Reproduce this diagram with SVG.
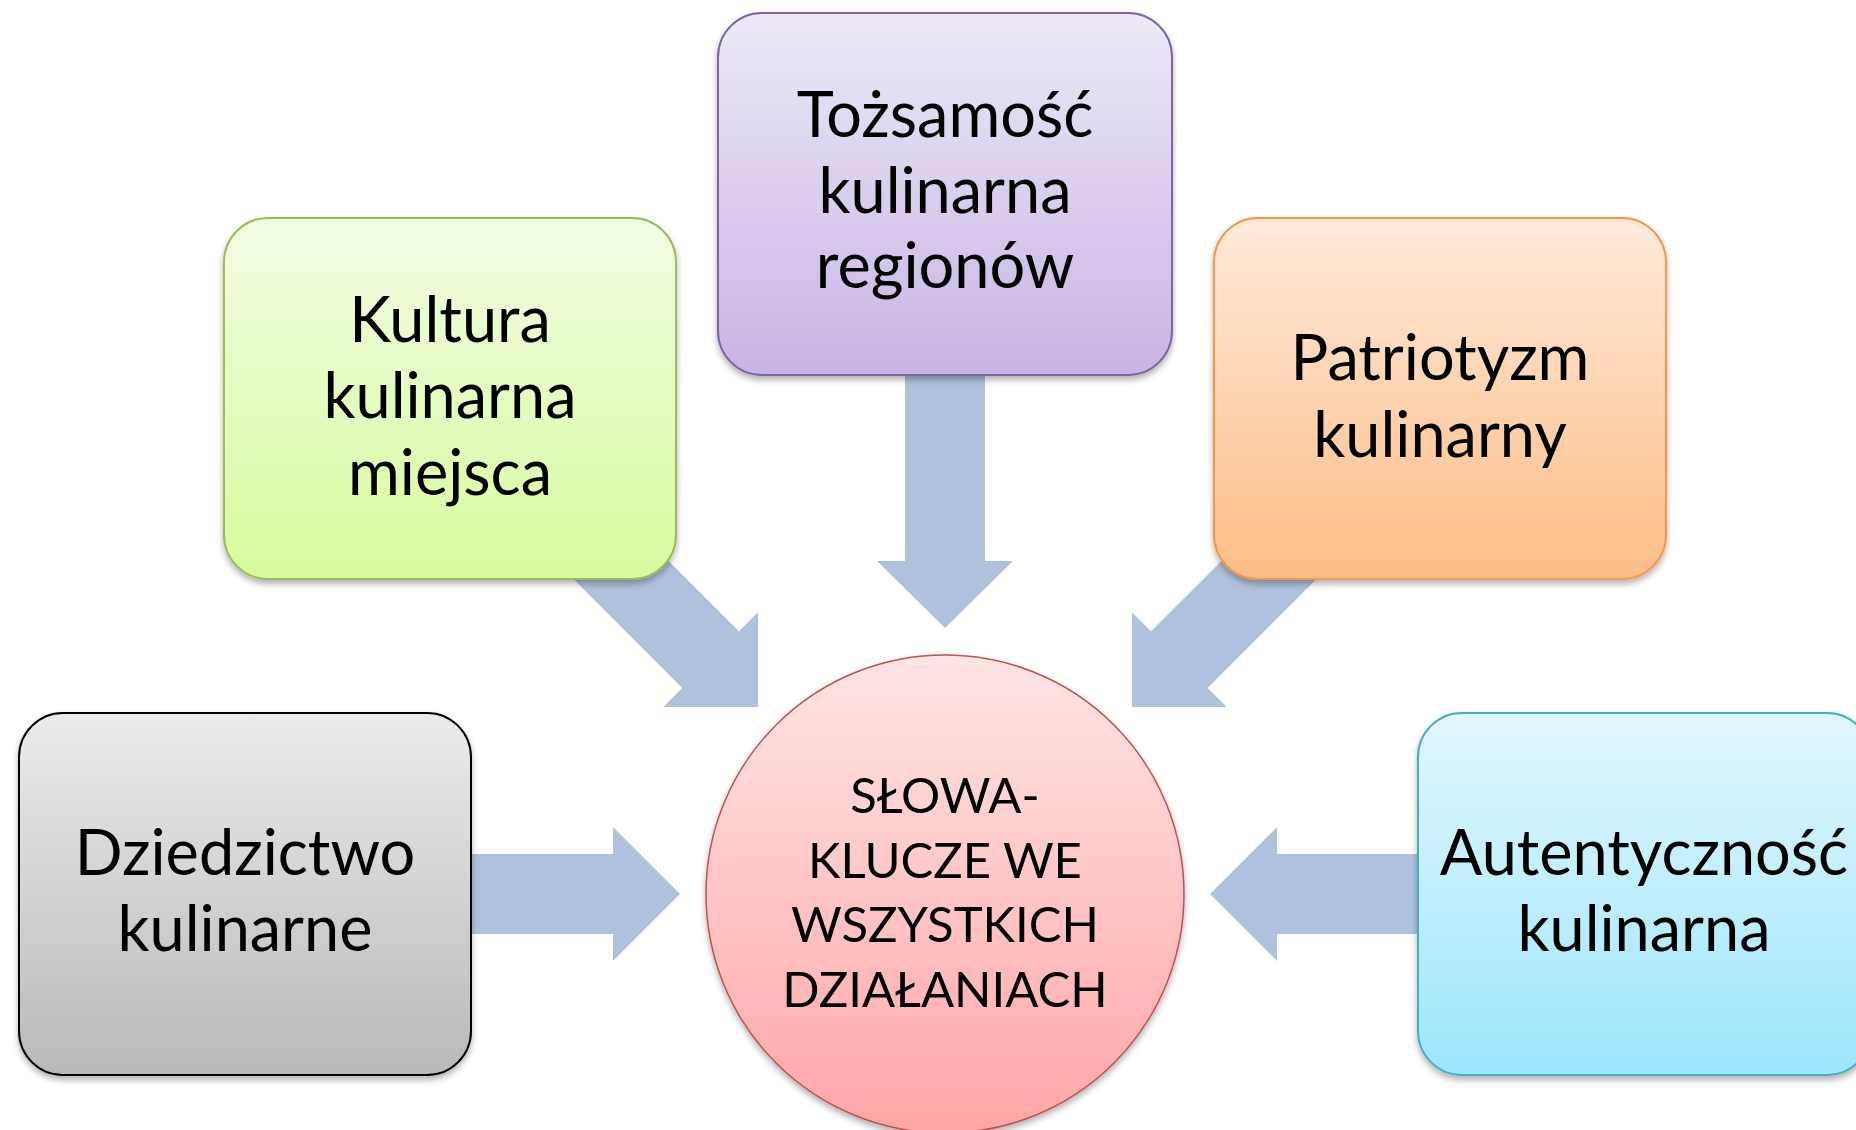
<svg xmlns="http://www.w3.org/2000/svg" width="1856" height="1130" viewBox="0 0 1856 1130">
<style>
.arrow{fill:#B0C1DD}
.box{stroke-width:2}
.lbl{font-family:Lato,"Open Sans","Liberation Sans",sans-serif;font-size:63px;fill:#000;text-anchor:middle}
.clbl{font-family:Lato,"Open Sans","Liberation Sans",sans-serif;font-size:49px;fill:#000;text-anchor:middle}
</style>
<defs>
<filter id="sh" x="-10%" y="-10%" width="120%" height="125%">
<feDropShadow dx="0" dy="4" stdDeviation="3" flood-color="#000" flood-opacity="0.3"/>
</filter>
<linearGradient id="gP" x1="0" y1="0" x2="0" y2="1"><stop offset="0" stop-color="#EEE8F7"/><stop offset="1" stop-color="#C8B4E4"/></linearGradient>
<linearGradient id="gG" x1="0" y1="0" x2="0" y2="1"><stop offset="0" stop-color="#F1FDE3"/><stop offset="1" stop-color="#D8FB9E"/></linearGradient>
<linearGradient id="gO" x1="0" y1="0" x2="0" y2="1"><stop offset="0" stop-color="#FFEADA"/><stop offset="1" stop-color="#FCBD86"/></linearGradient>
<linearGradient id="gK" x1="0" y1="0" x2="0" y2="1"><stop offset="0" stop-color="#EBEBEB"/><stop offset="1" stop-color="#B9B9B9"/></linearGradient>
<linearGradient id="gC" x1="0" y1="0" x2="0" y2="1"><stop offset="0" stop-color="#E2F7FD"/><stop offset="1" stop-color="#9DE6FC"/></linearGradient>
<linearGradient id="gR" x1="0" y1="0" x2="0" y2="1"><stop offset="0" stop-color="#FFE5E5"/><stop offset="1" stop-color="#FFA6A6"/></linearGradient>
</defs>
<g id="connectors">
<path class="arrow" d="M400,854 L613,854 L613,827 L680,894 L613,961 L613,934 L400,934 Z"/>
<path class="arrow" d="M1490,854 L1277,854 L1277,827 L1210,894 L1277,961 L1277,934 L1490,934 Z"/>
<path class="arrow" d="M905,300 L905,561 L877,561 L945,628 L1013,561 L985,561 L985,300 Z"/>
<path class="arrow" transform="translate(758,707) rotate(45)" d="M-250,-40 L-67,-40 L-67,-67 L0,0 L-67,67 L-67,40 L-250,40 Z"/>
<path class="arrow" transform="translate(1132,707) rotate(135)" d="M-250,-40 L-67,-40 L-67,-67 L0,0 L-67,67 L-67,40 L-250,40 Z"/>
</g>
<g id="node-tozsamosc">
<rect class="box" x="718" y="13" width="454" height="362" rx="44" fill="url(#gP)" stroke="#8064A2" filter="url(#sh)"/>
<text class="lbl" x="945" y="137">Tożsamość</text>
<text class="lbl" x="945" y="213">kulinarna</text>
<text class="lbl" x="945" y="288">regionów</text>
</g>
<g id="node-kultura">
<rect class="box" x="224" y="218" width="452" height="361" rx="44" fill="url(#gG)" stroke="#9BBB59" filter="url(#sh)"/>
<text class="lbl" x="450" y="342">Kultura</text>
<text class="lbl" x="450" y="418">kulinarna</text>
<text class="lbl" x="450" y="495">miejsca</text>
</g>
<g id="node-patriotyzm">
<rect class="box" x="1214" y="218" width="452" height="361" rx="44" fill="url(#gO)" stroke="#F79646" filter="url(#sh)"/>
<text class="lbl" x="1440" y="380">Patriotyzm</text>
<text class="lbl" x="1440" y="457">kulinarny</text>
</g>
<g id="node-dziedzictwo">
<rect class="box" x="19" y="713" width="452" height="362" rx="44" fill="url(#gK)" stroke="#000" filter="url(#sh)"/>
<text class="lbl" x="245" y="875">Dziedzictwo</text>
<text class="lbl" x="245" y="951">kulinarne</text>
</g>
<g id="node-autentycznosc">
<rect class="box" x="1418" y="713" width="453" height="362" rx="44" fill="url(#gC)" stroke="#4BACC6" filter="url(#sh)"/>
<text class="lbl" x="1644" y="875">Autentyczność</text>
<text class="lbl" x="1644" y="951">kulinarna</text>
</g>
<g id="node-center">
<circle cx="945" cy="894" r="239" fill="url(#gR)" stroke="#C0504D" stroke-width="1.5" filter="url(#sh)"/>
<text class="clbl" x="945" y="813">SŁOWA-</text>
<text class="clbl" x="945" y="878">KLUCZE WE</text>
<text class="clbl" x="945" y="942">WSZYSTKICH</text>
<text class="clbl" x="945" y="1007">DZIAŁANIACH</text>
</g>
</svg>
